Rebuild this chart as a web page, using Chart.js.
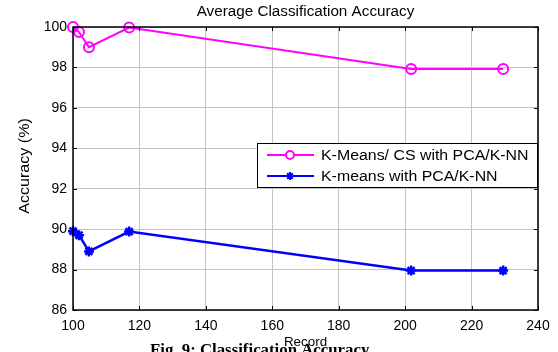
<!DOCTYPE html>
<html lang="en">
<head>
  <meta charset="UTF-8">
  <title>Average Classification Accuracy</title>
  <script src="https://cdn.jsdelivr.net/npm/chart.js"></script>
  <style>
    body { margin: 0; background: #fff; }
    #wrap { width: 558px; height: 352px; }
  </style>
</head>
<body>
  <div id="wrap"><canvas id="chart"></canvas></div>
  <script>
    const records = [100, 101.8, 104.8, 116.9, 201.8, 229.5];
    const csAccuracy = [100, 99.75, 99.0, 99.97, 97.92, 97.92];
    const kmAccuracy = [89.9, 89.7, 88.9, 89.88, 87.95, 87.95];
    const seriesNames = ['K-Means/ CS with PCA/K-NN', 'K-means with PCA/K-NN'];
    const chartTitle = 'Average Classification Accuracy';
    const xTitle = 'Record';
    const yTitle = 'Accuracy (%)';
    const caption = 'Fig. 9: Classification Accuracy';

    const FONT = '"Liberation Sans", Arial, sans-serif';

    function toPoints(ys) {
      return records.map((x, i) => ({ x: x, y: ys[i] }));
    }

    // text is a bit wider than normal in the original figure
    function wideText(ctx, text, x, y, stretch) {
      ctx.save();
      ctx.translate(x, y);
      ctx.scale(stretch, 1);
      ctx.fillText(text, 0, 0);
      ctx.restore();
    }

    // title, axis titles, box, inner ticks and legend drawn by hand (MATLAB look)
    const figurePlugin = {
      id: 'figure',
      afterDraw(chart) {
        const ctx = chart.ctx;
        const a = chart.chartArea;
        const xs = chart.scales.x, ys = chart.scales.y;
        ctx.save();
        ctx.strokeStyle = '#000';
        ctx.lineWidth = 1;
        ctx.beginPath();
        xs.ticks.forEach(t => {
          const px = Math.round(xs.getPixelForValue(t.value)) + 0.5;
          ctx.moveTo(px, a.bottom); ctx.lineTo(px, a.bottom - 4);
          ctx.moveTo(px, a.top); ctx.lineTo(px, a.top + 4);
        });
        ys.ticks.forEach(t => {
          const py = Math.round(ys.getPixelForValue(t.value)) + 0.5;
          ctx.moveTo(a.left, py); ctx.lineTo(a.left + 4, py);
          ctx.moveTo(a.right, py); ctx.lineTo(a.right - 4, py);
        });
        ctx.stroke();
        ctx.lineWidth = 1.5;
        ctx.strokeRect(a.left, a.top, a.right - a.left, a.bottom - a.top);

        ctx.fillStyle = '#000';
        ctx.font = '14px ' + FONT;
        ctx.textAlign = 'center';
        ctx.textBaseline = 'middle';
        const cx = (a.left + a.right) / 2;
        wideText(ctx, chartTitle, cx, 12, 1.09);
        ctx.font = '13px ' + FONT;
        wideText(ctx, xTitle, cx, 342, 1.03);
        ctx.save();
        ctx.translate(25, 166);
        ctx.rotate(-Math.PI / 2);
        ctx.font = '14px ' + FONT;
        wideText(ctx, yTitle, 0, 0, 1.15);
        ctx.restore();

        ctx.font = 'bold 16px "Liberation Serif", "Times New Roman", serif';
        ctx.textAlign = 'left';
        ctx.textBaseline = 'top';
        wideText(ctx, caption, 150, 343, 1.05);

        // legend
        const lx = 257, ly = 143, lw = 280, lh = 44;
        ctx.fillStyle = '#fff';
        ctx.fillRect(lx, ly, lw, lh);
        ctx.strokeStyle = '#000';
        ctx.lineWidth = 1;
        ctx.strokeRect(lx + 0.5, ly + 0.5, lw, lh);
        const colors = ['#ff00ff', '#0000ff'];
        const styles = ['circle', 'star'];
        ctx.font = '14px ' + FONT;
        ctx.textBaseline = 'middle';
        for (let i = 0; i < 2; i++) {
          const yy = ly + 12 + i * 21;
          ctx.strokeStyle = colors[i];
          ctx.fillStyle = colors[i];
          ctx.lineWidth = 2;
          ctx.beginPath();
          ctx.moveTo(lx + 10, yy);
          ctx.lineTo(lx + 57, yy);
          ctx.stroke();
          ctx.fillStyle = i === 0 ? '#fff' : colors[i];
          Chart.helpers.drawPoint(ctx, {
            pointStyle: styles[i], radius: 4, rotation: 0, borderWidth: 2
          }, lx + 33, yy);
          ctx.fillStyle = '#000';
          ctx.textAlign = 'left';
          wideText(ctx, seriesNames[i], lx + 64, yy + 1, 1.135);
        }
        ctx.restore();
      }
    };

    new Chart(document.getElementById('chart'), {
      type: 'line',
      data: {
        datasets: [
          {
            label: seriesNames[0],
            data: toPoints(csAccuracy),
            borderColor: '#ff00ff',
            backgroundColor: 'rgba(0,0,0,0)',
            borderWidth: 2,
            pointStyle: 'circle',
            pointRadius: 5,
            pointBorderWidth: 2,
            tension: 0,
            clip: false
          },
          {
            label: seriesNames[1],
            data: toPoints(kmAccuracy),
            borderColor: '#0000ff',
            backgroundColor: '#0000ff',
            borderWidth: 2.5,
            pointStyle: 'star',
            pointRadius: 5,
            pointBorderWidth: 2.5,
            tension: 0,
            clip: false
          }
        ]
      },
      options: {
        responsive: true,
        maintainAspectRatio: false,
        animation: false,
        layout: { padding: { top: 27, right: 20, left: 0, bottom: 0 } },
        plugins: {
          legend: { display: false },
          title: { display: false },
          tooltip: { enabled: false }
        },
        scales: {
          x: {
            type: 'linear',
            min: 100,
            max: 240,
            ticks: {
              stepSize: 20,
              color: '#000',
              font: { family: FONT, size: 14 },
              padding: 8,
              maxRotation: 0
            },
            grid: { color: '#c4c4c4', lineWidth: 1, drawTicks: false },
            border: { display: false },
            afterFit(scale) { scale.height = 42; }
          },
          y: {
            min: 86,
            max: 100,
            ticks: {
              stepSize: 2,
              color: '#000',
              font: { family: FONT, size: 14 },
              padding: 6
            },
            grid: { color: '#c4c4c4', lineWidth: 1, drawTicks: false },
            border: { display: false },
            afterFit(scale) { scale.width = 73; }
          }
        }
      },
      plugins: [figurePlugin]
    });
  </script>
</body>
</html>
